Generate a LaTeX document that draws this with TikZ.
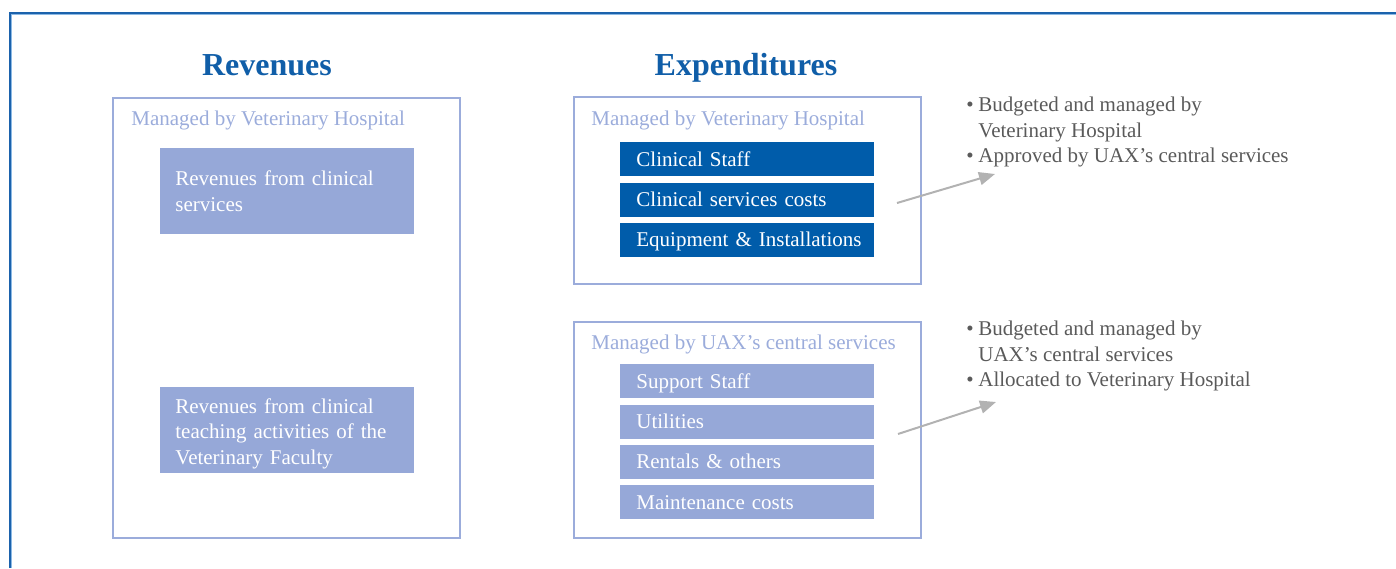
\documentclass[tikz,border=0pt]{standalone}
\usepackage{fontspec}
\setmainfont{Liberation Serif}
\usetikzlibrary{calc,positioning,fit,arrows.meta}

\newcommand{\boxfont}{\fontsize{10.5}{12.8}\selectfont}

\begin{document}
\begin{tikzpicture}[x=0.5pt,y=-0.5pt,>={Triangle[length=8pt,width=6.5pt]},
  heading/.style={anchor=base, font=\fontsize{16}{19}\selectfont\bfseries, text=titleblue},
  outerbox/.style={draw=periwinkle, line width=1.3pt, inner sep=0pt},
  boxlabel/.style={anchor=base west, inner sep=0pt, font=\boxfont, text=periwinkle},
  item/.style={anchor=north west, minimum width=127pt, minimum height=17pt, inner xsep=8pt, inner ysep=0pt,
    text width=111pt, align=left, text=white, font=\boxfont, text height=7.5pt, text depth=0.5pt},
  darkitem/.style={item, fill=itemblue},
  lightitem/.style={item, fill=lightfill},
  revitem/.style={anchor=north west, fill=lightfill, text=white, minimum width=127pt, minimum height=43pt,
    inner xsep=7.5pt, inner ysep=0pt, text width=112pt, align=left, font=\boxfont},
  note/.style={anchor=north west, inner sep=0pt, align=left, font=\boxfont, text=notegray},
  arrowline/.style={draw=arrowgray, line width=1pt, ->}]

\definecolor{frameblue}{RGB}{27,98,172}
\definecolor{framelight}{RGB}{140,185,228}
\definecolor{titleblue}{RGB}{16,94,168}
\definecolor{periwinkle}{RGB}{155,172,219}
\definecolor{lightfill}{RGB}{150,168,216}
\definecolor{itemblue}{RGB}{0,92,170}
\definecolor{notegray}{RGB}{90,90,90}
\definecolor{arrowgray}{RGB}{178,178,178}

\useasboundingbox (0,0) rectangle (1396,568);

% page frame, only top and left edges show
\draw[framelight, line width=0.6pt] (11.5,568) -- (11.5,14.5) -- (1396,14.5);
\draw[frameblue, line width=1pt] (10,568) -- (10,12.5) -- (1396,12.5);

\node[heading] (revtitle) at (267,75) {Revenues};
\node[heading] (exptitle) at (746,75) {Expenditures};

% revenues
\node[outerbox, fit={(113,98) (460,538)}] (rev) {};
\node[boxlabel] (revlabel) at (131,125) {Managed by Veterinary Hospital};
\node[revitem] (clinrev) at (160,148) {Revenues from clinical\\services};
\node[revitem] (teachrev) at (160,387) {\rule{0pt}{10.7pt}Revenues from clinical\\teaching activities of the\\Veterinary Faculty};

% expenditures managed by the hospital
\node[outerbox, fit={(574,97) (921,284)}] (hosp) {};
\node[boxlabel] (hosplabel) at (591,125) {Managed by Veterinary Hospital};
\node[darkitem] (clinstaff) at (620,142) {Clinical Staff};
\node[darkitem, below=2.7pt of clinstaff.south west, anchor=north west] (clincosts) {Clinical services costs};
\node[darkitem, below=2.7pt of clincosts.south west, anchor=north west] (equip) {\mbox{Equipment \& Installations}};

% expenditures managed centrally
\node[outerbox, fit={(574,322) (921,538)}] (central) {};
\node[boxlabel] (centrallabel) at (591,349) {Managed by UAX’s central services};
\node[lightitem] (suppstaff) at (620,364) {Support Staff};
\node[lightitem, below=2.7pt of suppstaff.south west, anchor=north west] (utilities) {Utilities};
\node[lightitem, below=2.7pt of utilities.south west, anchor=north west] (rentals) {Rentals \& others};
\node[lightitem, below=2.7pt of rentals.south west, anchor=north west] (maint) {Maintenance costs};

% remarks
\node[note] (hospnote) at (966,96.5) {\makebox[6pt][l]{\textbullet}Budgeted and managed by\\
  \hspace*{6pt}Veterinary Hospital\\
  \makebox[6pt][l]{\textbullet}Approved by UAX’s central services};
\node[note] (centralnote) at (966,320.5) {\makebox[6pt][l]{\textbullet}Budgeted and managed by\\
  \hspace*{6pt}UAX’s central services\\
  \makebox[6pt][l]{\textbullet}Allocated to Veterinary Hospital};

\coordinate (hospfrom) at (897,203);
\coordinate (hospto) at (995,174);
\coordinate (centralfrom) at (898,434);
\coordinate (centralto) at (996,402);
\draw[arrowline] (hospfrom) -- (hospto);
\draw[arrowline] (centralfrom) -- (centralto);
\end{tikzpicture}
\end{document}
